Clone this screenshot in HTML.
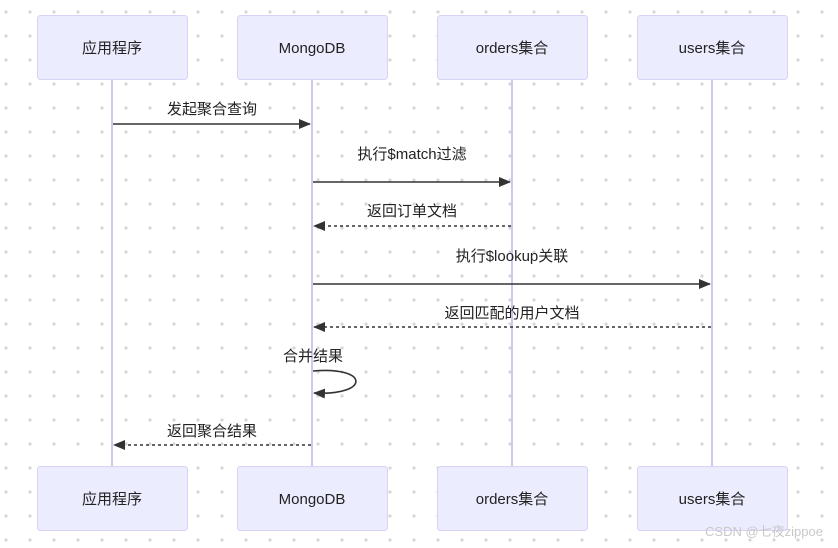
<!DOCTYPE html>
<html><head><meta charset="utf-8"><style>
html,body{margin:0;padding:0;background:#fff;}
svg{display:block;}
text{font-family:"Liberation Sans","Noto Sans CJK SC",sans-serif;font-size:15px;fill:#222;text-anchor:middle;}
</style></head><body>
<svg width="838" height="548" viewBox="0 0 838 548" xmlns="http://www.w3.org/2000/svg">
<defs>
<pattern id="dots" x="0" y="0" width="24" height="24" patternUnits="userSpaceOnUse">
<circle cx="6" cy="12" r="1.6" fill="#d6d6d6"/>
</pattern>
<marker id="ah" markerWidth="12" markerHeight="10" refX="11" refY="5" orient="auto" markerUnits="userSpaceOnUse">
<path d="M0,0 L12,5 L0,10 z" fill="#333"/>
</marker>
</defs>
<rect width="838" height="548" fill="url(#dots)"/>
<g stroke="#cfc6f2" stroke-width="2">
<line x1="112" y1="80" x2="112" y2="466"/>
<line x1="312" y1="80" x2="312" y2="466"/>
<line x1="512" y1="80" x2="512" y2="466"/>
<line x1="712" y1="80" x2="712" y2="466"/>
</g>
<g fill="#ececff" stroke="#d8d2f6" stroke-width="1">
<rect x="37.5" y="15.5" width="150" height="64" rx="3"/>
<rect x="237.5" y="15.5" width="150" height="64" rx="3"/>
<rect x="437.5" y="15.5" width="150" height="64" rx="3"/>
<rect x="637.5" y="15.5" width="150" height="64" rx="3"/>
<rect x="37.5" y="466.5" width="150" height="64" rx="3"/>
<rect x="237.5" y="466.5" width="150" height="64" rx="3"/>
<rect x="437.5" y="466.5" width="150" height="64" rx="3"/>
<rect x="637.5" y="466.5" width="150" height="64" rx="3"/>
</g>
<text x="112" y="53">应用程序</text>
<text x="312" y="53">MongoDB</text>
<text x="512" y="53">orders集合</text>
<text x="712" y="53">users集合</text>
<text x="112" y="504">应用程序</text>
<text x="312" y="504">MongoDB</text>
<text x="512" y="504">orders集合</text>
<text x="712" y="504">users集合</text>
<g stroke="#333" stroke-width="1.6" fill="none">
<line x1="113" y1="124" x2="310" y2="124" marker-end="url(#ah)"/>
<line x1="313" y1="182" x2="510" y2="182" marker-end="url(#ah)"/>
<line x1="511" y1="226" x2="314" y2="226" stroke-dasharray="3,3" marker-end="url(#ah)"/>
<line x1="313" y1="284" x2="710" y2="284" marker-end="url(#ah)"/>
<line x1="711" y1="327" x2="314" y2="327" stroke-dasharray="3,3" marker-end="url(#ah)"/>
<path d="M313,371 C370,366 370,396 314,393" marker-end="url(#ah)"/>
<line x1="311" y1="445" x2="114" y2="445" stroke-dasharray="3,3" marker-end="url(#ah)"/>
</g>
<text x="212" y="114">发起聚合查询</text>
<text x="412" y="159">执行$match过滤</text>
<text x="412" y="216">返回订单文档</text>
<text x="512" y="261">执行$lookup关联</text>
<text x="512" y="318">返回匹配的用户文档</text>
<text x="313" y="361">合并结果</text>
<text x="212" y="436">返回聚合结果</text>
<text x="764" y="536" style="font-size:13px;fill:#c8c8c8;">CSDN @七夜zippoe</text>
</svg>
</body></html>
